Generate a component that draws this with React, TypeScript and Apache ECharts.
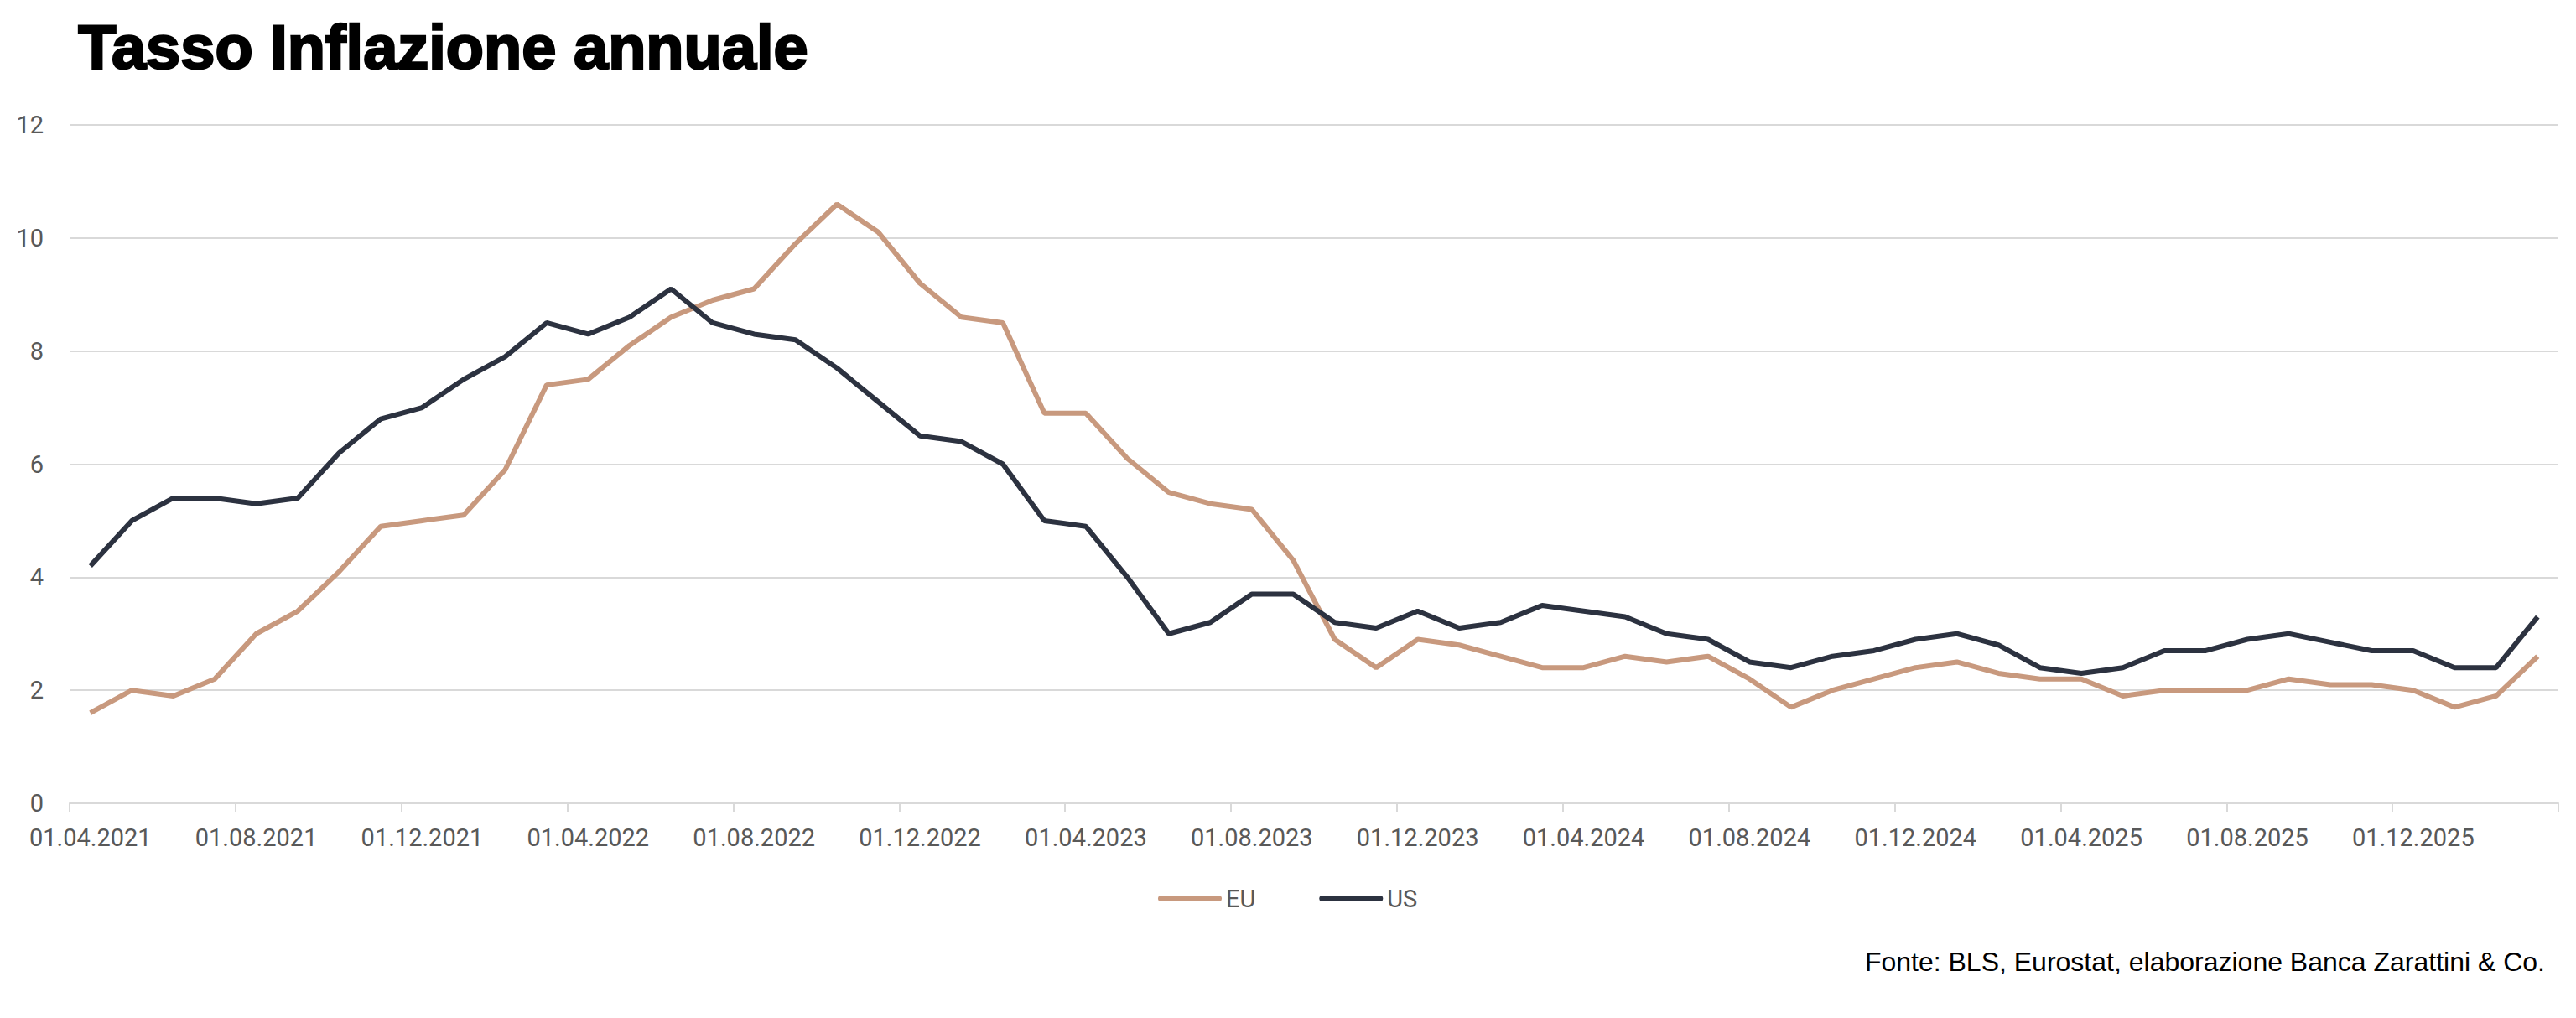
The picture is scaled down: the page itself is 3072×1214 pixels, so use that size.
import React, { useEffect, useRef } from "react";
import * as echarts from "echarts";

const months: string[] = [
  "01.04.2021","01.05.2021","01.06.2021","01.07.2021","01.08.2021","01.09.2021","01.10.2021","01.11.2021","01.12.2021",
  "01.01.2022","01.02.2022","01.03.2022","01.04.2022","01.05.2022","01.06.2022","01.07.2022","01.08.2022","01.09.2022","01.10.2022","01.11.2022","01.12.2022",
  "01.01.2023","01.02.2023","01.03.2023","01.04.2023","01.05.2023","01.06.2023","01.07.2023","01.08.2023","01.09.2023","01.10.2023","01.11.2023","01.12.2023",
  "01.01.2024","01.02.2024","01.03.2024","01.04.2024","01.05.2024","01.06.2024","01.07.2024","01.08.2024","01.09.2024","01.10.2024","01.11.2024","01.12.2024",
  "01.01.2025","01.02.2025","01.03.2025","01.04.2025","01.05.2025","01.06.2025","01.07.2025","01.08.2025","01.09.2025","01.10.2025","01.11.2025","01.12.2025",
  "01.01.2026","01.02.2026","01.03.2026",
];

const euValues: number[] = [
  1.6, 2.0, 1.9, 2.2, 3.0, 3.4, 4.1, 4.9, 5.0,
  5.1, 5.9, 7.4, 7.5, 8.1, 8.6, 8.9, 9.1, 9.9, 10.6, 10.1, 9.2,
  8.6, 8.5, 6.9, 6.9, 6.1, 5.5, 5.3, 5.2, 4.3, 2.9, 2.4, 2.9,
  2.8, 2.6, 2.4, 2.4, 2.6, 2.5, 2.6, 2.2, 1.7, 2.0, 2.2, 2.4,
  2.5, 2.3, 2.2, 2.2, 1.9, 2.0, 2.0, 2.0, 2.2, 2.1, 2.1, 2.0,
  1.7, 1.9, 2.6,
];

const usValues: number[] = [
  4.2, 5.0, 5.4, 5.4, 5.3, 5.4, 6.2, 6.8, 7.0,
  7.5, 7.9, 8.5, 8.3, 8.6, 9.1, 8.5, 8.3, 8.2, 7.7, 7.1, 6.5,
  6.4, 6.0, 5.0, 4.9, 4.0, 3.0, 3.2, 3.7, 3.7, 3.2, 3.1, 3.4,
  3.1, 3.2, 3.5, 3.4, 3.3, 3.0, 2.9, 2.5, 2.4, 2.6, 2.7, 2.9,
  3.0, 2.8, 2.4, 2.3, 2.4, 2.7, 2.7, 2.9, 3.0, 2.85, 2.7, 2.7,
  2.4, 2.4, 3.3,
];

const seriesNames: string[] = ["EU", "US"];
const titleText = "Tasso Inflazione annuale";
const sourceText = "Fonte: BLS, Eurostat, elaborazione Banca Zarattini & Co.";

const EU_COLOR = "#C8997E";
const US_COLOR = "#2C3240";
const GRID_COLOR = "#D9D9D9";
const LABEL_COLOR = "#595959";
const legendIcon = "path://M3.5,0 L72.5,0 A3.5,3.5 0 0 1 72.5,7 L3.5,7 A3.5,3.5 0 0 1 3.5,0 Z";

export default function App() {
  const ref = useRef<HTMLDivElement>(null);

  useEffect(() => {
    document.body.style.margin = "0";
    if (!ref.current) return;
    const chart = echarts.init(ref.current, null, { renderer: "svg" });
    chart.setOption({
      animation: false,
      backgroundColor: "#ffffff",
      grid: { left: 83, right: 21, top: 149, bottom: 256, containLabel: false },
      graphic: [
        {
          type: "text",
          left: 92,
          top: 18,
          style: {
            text: titleText,
            font: 'bold 74px "Liberation Sans", Arial, sans-serif',
            fill: "#000000",
            stroke: "#000000",
            lineWidth: 2.5,
          },
        },
        {
          type: "text",
          right: 37,
          top: 1131,
          style: {
            text: sourceText,
            font: '32px "Liberation Sans", Arial, sans-serif',
            fill: "#000000",
          },
        },
      ],
      legend: {
        data: seriesNames,
        left: 1376,
        top: 1052,
        icon: legendIcon,
        itemWidth: 76,
        itemHeight: 7,
        itemGap: 76,
        textStyle: { color: LABEL_COLOR, fontSize: 29, fontFamily: "Roboto" },
      },
      xAxis: {
        type: "category",
        data: months,
        boundaryGap: true,
        axisLine: { show: true, lineStyle: { color: GRID_COLOR, width: 2 } },
        axisTick: { show: true, interval: 3, alignWithLabel: false, length: 10, lineStyle: { color: GRID_COLOR, width: 2 } },
        axisLabel: { interval: 3, margin: 26, color: LABEL_COLOR, fontSize: 29, fontFamily: "Roboto" },
        splitLine: { show: false },
      },
      yAxis: {
        type: "value",
        min: 0,
        max: 12,
        interval: 2,
        axisLine: { show: false },
        axisTick: { show: false },
        axisLabel: { margin: 31, color: LABEL_COLOR, fontSize: 29, fontFamily: "Roboto" },
        splitLine: { show: true, lineStyle: { color: GRID_COLOR, width: 2 } },
      },
      series: [
        {
          name: seriesNames[0],
          type: "line",
          data: euValues,
          symbol: "none",
          showSymbol: false,
          itemStyle: { color: EU_COLOR },
          lineStyle: { color: EU_COLOR, width: 6 },
        },
        {
          name: seriesNames[1],
          type: "line",
          data: usValues,
          symbol: "none",
          showSymbol: false,
          itemStyle: { color: US_COLOR },
          lineStyle: { color: US_COLOR, width: 6 },
        },
      ],
    });
    return () => chart.dispose();
  }, []);

  return <div ref={ref} style={{ width: 3072, height: 1214 }} />;
}
